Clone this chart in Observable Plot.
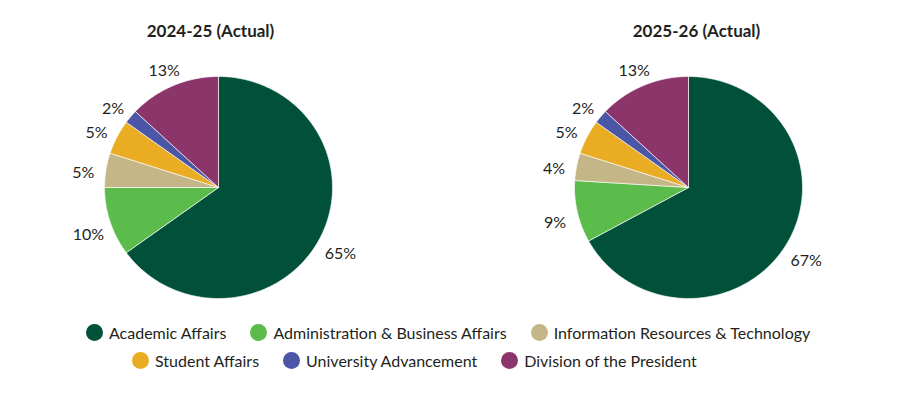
<!DOCTYPE html>
<html>
<head>
<meta charset="utf-8">
<script src="https://cdn.jsdelivr.net/npm/d3@7"></script>
<script src="https://cdn.jsdelivr.net/npm/@observablehq/plot@0.6"></script>
<style>
  html, body { margin: 0; padding: 0; background: #fff; }
  #chart { width: 900px; position: relative; }
  .legend { font-family: Lato, "Noto Sans", sans-serif; font-size: 16px; color: #231f20; }
  .row { display: flex; height: 28px; align-items: center; white-space: nowrap; }
  .item { display: flex; align-items: center; margin-right: 24px; }
  .sw { width: 17px; height: 17px; border-radius: 50%; margin-right: 6px; flex: none; }
</style>
</head>
<body>
<div id="chart"></div>
<script>
// ---- data ----
const categories = [
  "Academic Affairs",
  "Administration & Business Affairs",
  "Information Resources & Technology",
  "Student Affairs",
  "University Advancement",
  "Division of the President"
];
const colors = ["#00503A", "#5BBB4B", "#C5B687", "#E9AC22", "#4C56A6", "#8B356B"];
const years = ["2024-25 (Actual)", "2025-26 (Actual)"];
const shares2024 = [65, 10, 5, 5, 2, 13];
const shares2025 = [67, 9, 4, 5, 2, 13];
const legendRows = [[0, 1, 2], [3, 4, 5]];

// ---- layout constants ----
const W = 900, H = 315;
const rx = 114, ry = 111;          // pie radii in px
const c1x = 218, c2x = 688, cy = 187;
const pieOffset = (c2x - c1x) / rx; // offset of 2nd pie in x units
const labelR = 1.2;

const pies = [shares2024, shares2025];
const slices = [];
const labels = [];
pies.forEach((shares, p) => {
  const ox = p * pieOffset;
  const total = d3.sum(shares);
  let acc = 0;
  shares.forEach((v, i) => {
    const a0 = acc / total * 2 * Math.PI;
    acc += v;
    const a1 = acc / total * 2 * Math.PI;
    const key = p + "-" + i;
    slices.push({key, cat: categories[i], x: ox, y: 0});
    const n = Math.max(2, Math.ceil((a1 - a0) / (Math.PI / 180)));
    for (let k = 0; k <= n; k++) {
      const t = a0 + (a1 - a0) * k / n;
      slices.push({key, cat: categories[i], x: ox + Math.sin(t), y: Math.cos(t)});
    }
    slices.push({key, cat: categories[i], x: ox, y: 0});
    const m = (a0 + a1) / 2;
    labels.push({x: ox + labelR * Math.sin(m), y: labelR * Math.cos(m), text: v + "%"});
  });
});

const plot = Plot.plot({
  width: W,
  height: H,
  margin: 0,
  x: {domain: [-c1x / rx, (W - c1x) / rx], range: [0, W], axis: null},
  y: {domain: [-(H - cy) / ry, cy / ry], range: [H, 0], axis: null},
  color: {domain: categories, range: colors},
  style: {fontFamily: "Lato, 'Noto Sans', sans-serif", background: "white"},
  marks: [
    Plot.line(slices, {x: "x", y: "y", z: "key", fill: "cat", stroke: "white", strokeWidth: 0.7, strokeOpacity: 0.9, curve: "linear-closed"}),
    Plot.text(labels, {x: "x", y: "y", text: "text", fontSize: 16, dy: 6, fill: "#231f20"}),
    Plot.text([years[0]], {x: [0], frameAnchor: "top", lineAnchor: "middle", dy: 31, dx: -8, text: d => d, fontSize: 17, fontWeight: "bold", fill: "#231f20"}),
    Plot.text([years[1]], {x: [pieOffset], frameAnchor: "top", lineAnchor: "middle", dy: 31, dx: 8, text: d => d, fontSize: 17, fontWeight: "bold", fill: "#231f20"})
  ]
});

const chart = document.getElementById("chart");
chart.appendChild(plot);

const legend = document.createElement("div");
legend.className = "legend";
const rowPads = [86, 132];
legendRows.forEach((row, r) => {
  const div = document.createElement("div");
  div.className = "row";
  div.style.paddingLeft = rowPads[r] + "px";
  row.forEach(i => {
    const it = document.createElement("div");
    it.className = "item";
    const sw = document.createElement("span");
    sw.className = "sw";
    sw.style.background = colors[i];
    const tx = document.createElement("span");
    tx.textContent = categories[i];
    it.appendChild(sw);
    it.appendChild(tx);
    div.appendChild(it);
  });
  legend.appendChild(div);
});
legend.style.marginTop = "3px";
chart.appendChild(legend);
</script>
</body>
</html>
